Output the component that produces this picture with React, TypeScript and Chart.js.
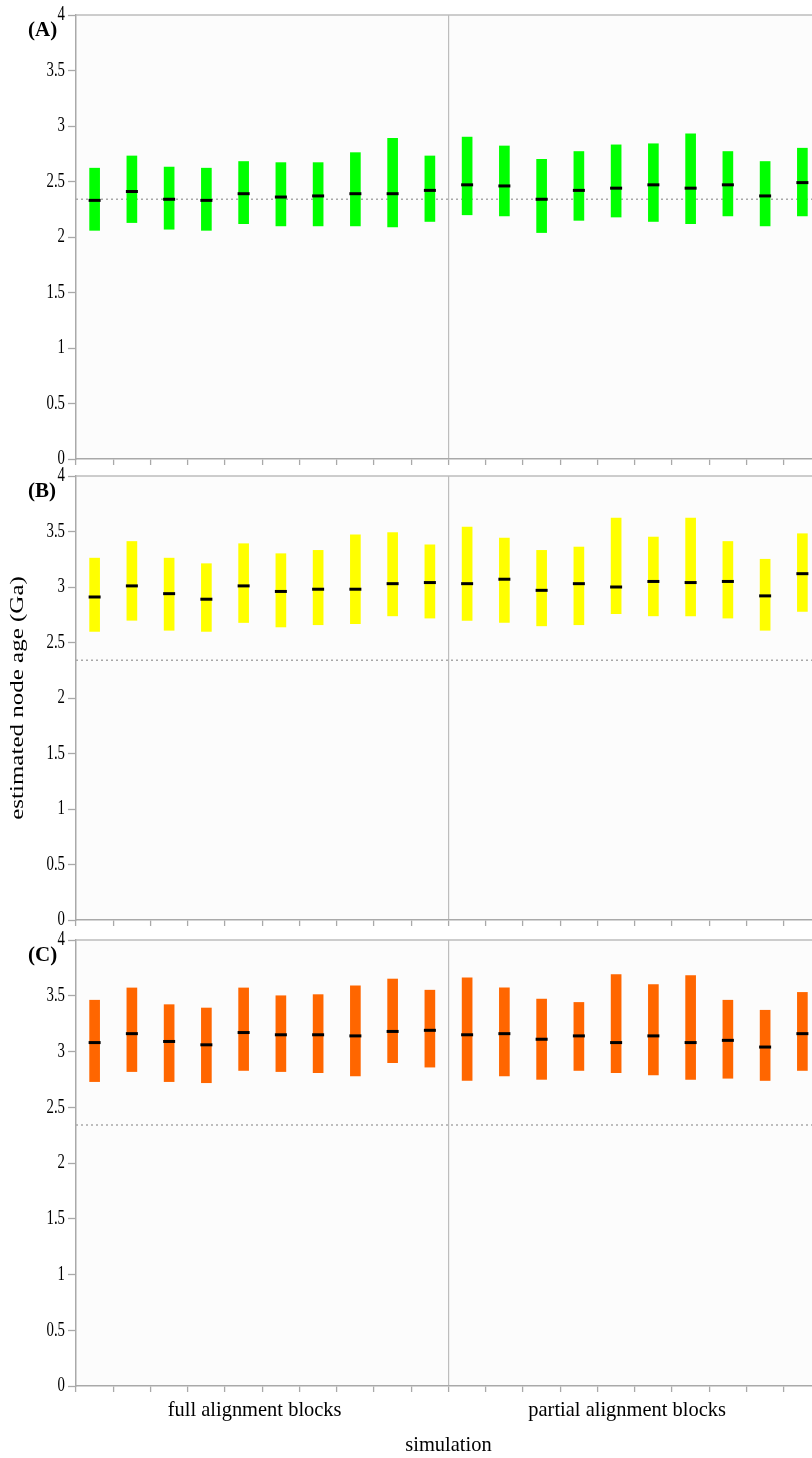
import React, { useEffect, useRef } from 'react';
import { Chart, registerables } from 'chart.js';

Chart.register(...registerables);

// ---- data ----
const SIMULATIONS = [
  'F1', 'F2', 'F3', 'F4', 'F5', 'F6', 'F7', 'F8', 'F9', 'F10',
  'P1', 'P2', 'P3', 'P4', 'P5', 'P6', 'P7', 'P8', 'P9', 'P10',
];
const GROUP_LABELS = ['full alignment blocks', 'partial alignment blocks'];
const GROUP_LABEL_INDEX = [4, 14];
const X_TITLE = 'simulation';
const Y_TITLE = 'estimated node age (Ga)';
const PANEL_NAMES = ['(A)', '(B)', '(C)'];
const REFERENCE_AGE = 2.34;
const Y_MIN = 0;
const Y_MAX = 4;
const Y_STEP = 0.5;

const A_LOW = [2.06, 2.13, 2.07, 2.06, 2.12, 2.10, 2.10, 2.10, 2.09, 2.14, 2.20, 2.19, 2.04, 2.15, 2.18, 2.14, 2.12, 2.19, 2.10, 2.19];
const A_HIGH = [2.62, 2.73, 2.63, 2.62, 2.68, 2.67, 2.67, 2.76, 2.89, 2.73, 2.90, 2.82, 2.70, 2.77, 2.83, 2.84, 2.93, 2.77, 2.68, 2.80];
const A_MED = [2.33, 2.41, 2.34, 2.33, 2.39, 2.36, 2.37, 2.39, 2.39, 2.42, 2.47, 2.46, 2.34, 2.42, 2.44, 2.47, 2.44, 2.47, 2.37, 2.49];

const B_LOW = [2.60, 2.70, 2.61, 2.60, 2.68, 2.64, 2.66, 2.67, 2.74, 2.72, 2.70, 2.68, 2.65, 2.66, 2.76, 2.74, 2.74, 2.72, 2.61, 2.78];
const B_HIGH = [3.26, 3.41, 3.26, 3.21, 3.39, 3.30, 3.33, 3.47, 3.49, 3.38, 3.54, 3.44, 3.33, 3.36, 3.62, 3.45, 3.62, 3.41, 3.25, 3.48];
const B_MED = [2.91, 3.01, 2.94, 2.89, 3.01, 2.96, 2.98, 2.98, 3.03, 3.04, 3.03, 3.07, 2.97, 3.03, 3.00, 3.05, 3.04, 3.05, 2.92, 3.12];

const C_LOW = [2.73, 2.82, 2.73, 2.72, 2.83, 2.82, 2.81, 2.78, 2.90, 2.86, 2.74, 2.78, 2.75, 2.83, 2.81, 2.79, 2.75, 2.76, 2.74, 2.83];
const C_HIGH = [3.46, 3.57, 3.42, 3.39, 3.57, 3.50, 3.51, 3.59, 3.65, 3.55, 3.66, 3.57, 3.47, 3.44, 3.69, 3.60, 3.68, 3.46, 3.37, 3.53];
const C_MED = [3.08, 3.16, 3.09, 3.06, 3.17, 3.15, 3.15, 3.14, 3.18, 3.19, 3.15, 3.16, 3.11, 3.14, 3.08, 3.14, 3.08, 3.10, 3.04, 3.16];

const SERIF = "'Liberation Serif', 'Times New Roman', serif";
const AXIS_GRAY = '#a9a9a9';

const TICK_SIZE = 20;
const XLABEL_SIZE = 22;
const YTITLE_SIZE = 25;
// horizontal squeeze per font size, mimicking the reference raster
const SQUEEZE: Record<number, number> = { 20: 0.74, 22: 0.93, 25: 0.75 };

function condenseText(ctx: any) {
  if (ctx.__condensed) return;
  const orig = ctx.fillText.bind(ctx);
  ctx.__origFillText = orig;
  ctx.__condensed = true;
  ctx.fillText = function (text: string, x: number, y: number, maxWidth?: number) {
    const mm = /(\d+(?:\.\d+)?)px/.exec(ctx.font);
    const size = mm ? Math.round(parseFloat(mm[1])) : 0;
    const factor = SQUEEZE[size] ?? 1;
    const m = ctx.getTransform();
    const p = m.transformPoint(new DOMPoint(x, y));
    ctx.setTransform(
      new DOMMatrix().translate(p.x, p.y).scale(factor, 1).translate(-p.x, -p.y).multiply(m)
    );
    if (maxWidth === undefined) orig(text, x, y);
    else orig(text, x, y, maxWidth);
    ctx.setTransform(m);
  };
}

type PanelDef = {
  low: number[];
  high: number[];
  med: number[];
  color: string;
  name: string;
  showX: boolean;
  showYTitle: boolean;
  xHeight: number;
};

function makeChart(canvas: HTMLCanvasElement, p: PanelDef) {
  const ctx: any = canvas.getContext('2d');
  condenseText(ctx);

  const decor = {
    id: 'decor',
    beforeDraw(chart: any) {
      const { ctx: c, chartArea: a } = chart;
      c.save();
      c.fillStyle = '#fcfcfc';
      c.fillRect(a.left, a.top, a.right - a.left, a.bottom - a.top);
      c.restore();
    },
    beforeDatasetsDraw(chart: any) {
      const { ctx: c, chartArea: a, scales } = chart;
      const y = scales.y.getPixelForValue(REFERENCE_AGE);
      c.save();
      c.strokeStyle = '#a8a8a8';
      c.lineWidth = 1.5;
      c.setLineDash([2, 3]);
      c.beginPath();
      c.moveTo(a.left, y);
      c.lineTo(a.right, y);
      c.stroke();
      c.restore();
    },
    afterDraw(chart: any) {
      const { ctx: c, chartArea: a } = chart;
      c.save();
      c.strokeStyle = '#bdbdbd';
      c.lineWidth = 1.5;
      c.beginPath();
      c.moveTo(a.left, a.top);
      c.lineTo(a.right, a.top);
      c.stroke();
      c.fillStyle = '#000';
      c.font = `bold 21px ${SERIF}`;
      c.textAlign = 'left';
      c.textBaseline = 'middle';
      const f = (c as any).__origFillText || c.fillText.bind(c);
      f(p.name, 28, a.top + 16);
      c.restore();
    },
  };

  return new Chart(ctx, {
    type: 'bar',
    plugins: [decor],
    data: {
      labels: SIMULATIONS,
      datasets: [
        {
          type: 'line',
          data: p.med,
          showLine: false,
          pointStyle: 'line',
          pointRadius: 6,
          pointHoverRadius: 6,
          pointBorderWidth: 3,
          pointBorderColor: '#000',
          pointBackgroundColor: '#000',
          borderColor: '#000',
          order: 1,
        } as any,
        {
          type: 'bar',
          data: p.low.map((l, i) => [l, p.high[i]]),
          backgroundColor: p.color,
          borderWidth: 0,
          barThickness: 10,
          order: 2,
        } as any,
      ],
    },
    options: {
      animation: false,
      responsive: false,
      devicePixelRatio: 1,
      events: [],
      layout: { padding: { top: 12, left: 0, right: 4, bottom: 0 } },
      plugins: {
        legend: { display: false },
        title: { display: false },
        tooltip: { enabled: false },
      },
      scales: {
        x: {
          type: 'category',
          offset: true,
          grid: {
            offset: true,
            drawOnChartArea: true,
            drawTicks: true,
            color: (c: any) => (c.index === 10 ? '#bdbdbd' : 'rgba(0,0,0,0)'),
            lineWidth: 1.2,
            tickColor: AXIS_GRAY,
            tickLength: 6,
            tickWidth: 1.3,
          },
          border: { color: AXIS_GRAY, width: 1.5 },
          ticks: {
            display: p.showX,
            autoSkip: false,
            maxRotation: 0,
            minRotation: 0,
            labelOffset: 11,
            padding: 5,
            color: '#000',
            font: { family: SERIF, size: XLABEL_SIZE },
            callback: (_v: any, i: number) => {
              const g = GROUP_LABEL_INDEX.indexOf(i);
              return g >= 0 ? GROUP_LABELS[g] : '';
            },
          },
          title: {
            display: p.showX,
            text: X_TITLE,
            color: '#000',
            font: { family: SERIF, size: XLABEL_SIZE },
            padding: { top: 0, bottom: 0 },
          },
          afterFit: (s: any) => {
            s.height = p.xHeight;
          },
        } as any,
        y: {
          min: Y_MIN,
          max: Y_MAX,
          ticks: {
            stepSize: Y_STEP,
            color: '#000',
            padding: 3,
            font: { family: SERIF, size: TICK_SIZE },
            callback: (v: any) => String(Number(v)),
          },
          grid: {
            drawOnChartArea: false,
            drawTicks: true,
            tickLength: 8,
            tickColor: AXIS_GRAY,
            tickWidth: 1.3,
          },
          border: { color: AXIS_GRAY, width: 1.5 },
          title: {
            display: p.showYTitle,
            text: Y_TITLE,
            color: '#000',
            font: { family: SERIF, size: YTITLE_SIZE },
            padding: { top: 3, bottom: 4 },
          },
          afterFit: (s: any) => {
            s.width = 76;
          },
        } as any,
      },
    },
  });
}

const PANELS: PanelDef[] = [
  { low: A_LOW, high: A_HIGH, med: A_MED, color: '#00ff00', name: PANEL_NAMES[0], showX: false, showYTitle: false, xHeight: 12 },
  { low: B_LOW, high: B_HIGH, med: B_MED, color: '#ffff00', name: PANEL_NAMES[1], showX: false, showYTitle: true, xHeight: 12 },
  { low: C_LOW, high: C_HIGH, med: C_MED, color: '#ff6600', name: PANEL_NAMES[2], showX: true, showYTitle: false, xHeight: 72 },
];

const CANVAS_BOXES = [
  { top: 0, height: 474 },
  { top: 461, height: 474 },
  { top: 925, height: 533 },
];

export default function App() {
  const r0 = useRef<HTMLCanvasElement>(null);
  const r1 = useRef<HTMLCanvasElement>(null);
  const r2 = useRef<HTMLCanvasElement>(null);
  const refs = [r0, r1, r2];

  useEffect(() => {
    const charts = PANELS.map((p, i) => makeChart(refs[i].current as HTMLCanvasElement, p));
    return () => charts.forEach((c) => c.destroy());
  }, []);

  return (
    <div
      style={{
        position: 'fixed',
        left: 0,
        top: 0,
        width: 812,
        height: 1458,
        overflow: 'hidden',
        background: '#ffffff',
      }}
    >
      {CANVAS_BOXES.map((b, i) => (
        <canvas
          key={i}
          ref={refs[i]}
          width={830}
          height={b.height}
          style={{ position: 'absolute', left: 0, top: b.top, width: 830, height: b.height }}
        />
      ))}
    </div>
  );
}
